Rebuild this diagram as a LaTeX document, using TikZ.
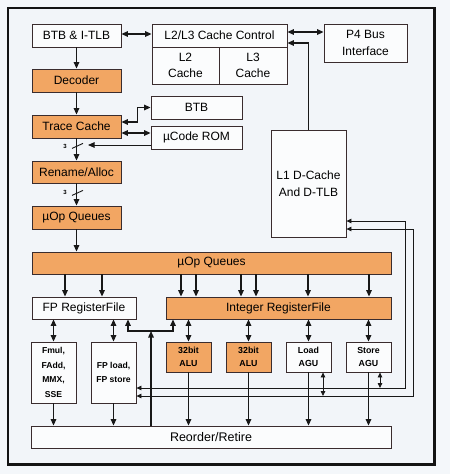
\documentclass[tikz,border=0pt]{standalone}
\usepackage{fontspec}
\setmainfont{Liberation Sans}
\usepackage{tikz}
\usetikzlibrary{calc,arrows.meta}
\definecolor{paper}{HTML}{F4F7FA}
\definecolor{panel}{HTML}{F2F5F9}
\definecolor{frame}{HTML}{141414}
\definecolor{edge}{HTML}{3A2C2E}
\definecolor{wire}{HTML}{181818}
\definecolor{hot}{HTML}{F2A663}
\definecolor{cold}{HTML}{FBFCFD}
\tikzset{
  unitBox/.style={draw=edge, line width=0.8pt, fill=cold, inner sep=1pt, align=center,
    font=\fontsize{12}{16.5}\selectfont},
  hotBox/.style={unitBox, fill=hot},
  leftCol/.style={minimum width=89pt, minimum height=23pt},
  exeBox/.style={minimum width=45pt, minimum height=30pt, font=\fontsize{8.8}{13}\selectfont\bfseries},
  fpBox/.style={minimum width=45pt, minimum height=61pt, font=\fontsize{8.6}{14.5}\selectfont\bfseries},
  wireA/.style={draw=wire, line width=1.4pt, -{Triangle[length=6.5pt,width=5.5pt]}},
  wireB/.style={draw=wire, line width=1.4pt, {Triangle[length=6.5pt,width=5.5pt]}-{Triangle[length=6.5pt,width=5.5pt]}},
  loopWire/.style={draw=wire, line width=0.8pt, {Triangle[length=5pt,width=4.5pt]}-{Triangle[length=5pt,width=4.5pt]}},
  busTag/.style={font=\fontsize{6}{6}\selectfont\bfseries, inner sep=0pt},
}
\begin{document}
\begin{tikzpicture}[x=1pt, y=-1pt]
  \useasboundingbox (0,0) rectangle (450,474);
  \fill[paper] (0,0) rectangle (450,474);
  \draw[draw=frame, fill=panel, line width=2.5pt] (8,8) rectangle (434.5,464.5);

  % front end
  \node[unitBox, leftCol] (btbitlb) at (76.5,35.5) {BTB \& I-TLB};
  \node[hotBox, leftCol] (decoder) at (76.5,80.5) {Decoder};
  \node[hotBox, leftCol] (trace) at (76.5,126.5) {Trace Cache};
  \node[hotBox, leftCol, minimum height=22pt] (rename) at (76.5,172) {Rename/Alloc};
  \node[hotBox, leftCol] (uopq) at (76.5,217.5) {µOp Queues};

  \node[unitBox, minimum width=135pt, minimum height=23pt] (cachectl) at (219.5,35.5) {L2/L3 Cache Control};
  \node[unitBox, minimum width=67pt, minimum height=37pt] (ltwo) at (185.5,65.5) {L2\\Cache};
  \node[unitBox, minimum width=68pt, minimum height=37pt] (lthree) at (253,65.5) {L3\\Cache};
  \node[unitBox, minimum width=83pt, minimum height=38pt] (bus) at (365.5,43) {P4 Bus\\Interface};
  \node[unitBox, minimum width=91pt, minimum height=23pt] (btb) at (196.5,107.5) {BTB};
  \node[unitBox, minimum width=91pt, minimum height=23pt] (ucode) at (196.5,137.5) {µCode ROM};
  \node[unitBox, minimum width=75pt, minimum height=107pt] (lone) at (308.5,183.5) {L1 D-Cache\\And D-TLB};

  % back end
  \node[hotBox, minimum width=359pt, minimum height=22pt] (bigq) at (211.5,263) {µOp Queues};
  \node[unitBox, minimum width=104pt, minimum height=22pt] (fprf) at (84,308) {FP RegisterFile};
  \node[hotBox, minimum width=225pt, minimum height=22pt] (intrf) at (278.5,308) {Integer RegisterFile};
  \node[unitBox, fpBox] (fmul) at (53.5,372.5) {Fmul,\\FAdd,\\MMX,\\SSE};
  \node[unitBox, fpBox] (fpload) at (113.5,372.5) {FP load,\\FP store};
  \node[hotBox, exeBox] (alua) at (188.5,357) {32bit\\ALU};
  \node[hotBox, exeBox] (alub) at (248.5,357) {32bit\\ALU};
  \node[unitBox, exeBox] (loadagu) at (308.5,357) {Load\\AGU};
  \node[unitBox, exeBox] (storeagu) at (368.5,357) {Store\\AGU};
  \node[unitBox, minimum width=360pt, minimum height=22pt, font=\fontsize{12.5}{15}\selectfont] (retire) at (211,437) {Reorder/Retire};

  % joints
  \coordinate (ucodeIn) at (88,145);
  \coordinate (bypL) at (128,331);
  \coordinate (bypM) at (151,331);
  \coordinate (bypR) at (173,331);
  \coordinate (loopA) at (405,221);
  \coordinate (loopB) at (413,229);

  % front end wires
  \draw[wireA] (btbitlb) -- (decoder);
  \draw[wireA] (decoder) -- (trace);
  \draw[wireA] (trace) -- (rename);
  \draw[wireA] (rename) -- (uopq);
  \draw[wireA] (uopq) -- (bigq.north -| uopq);
  \draw[draw=wire, line width=0.9pt] ($(trace.south)+(-4.5,10)$) -- ++(11,-5);
  \draw[draw=wire, line width=0.9pt] ($(rename.south)+(-4.5,12)$) -- ++(11,-5);
  \node[busTag] (tagA) at ($(trace.south)+(-11.5,8)$) {3};
  \node[busTag] (tagB) at ($(rename.south)+(-11.5,9)$) {3};
  \draw[wireA, line width=1pt] ($(ucode.west)+(0,7.5)$) -- (ucodeIn);
  \draw[wireB] ($(trace.east)+(0,-4.5)$) -- ++(16,0) |- (btb.west);
  \draw[wireB] ($(trace.east)+(0,6.5)$) -- ($(ucode.west)+(0,-4.5)$);
  \draw[wireB] ($(btbitlb.east)+(0,-1.5)$) -- ($(cachectl.west)+(0,-1.5)$);
  \draw[wireB] ($(cachectl.east)+(0,-3.5)$) -- (bus.west |- 0,32);
  \draw[wireA] (lone.north) |- ($(cachectl.east)+(0,7.5)$);

  % issue
  \foreach \x in {65,102}
    \draw[wireA] (bigq.south -| \x,0) -- (fprf.north -| \x,0);
  \foreach \x in {181,196,241,256,308,369}
    \draw[wireA] (bigq.south -| \x,0) -- (intrf.north -| \x,0);
  \foreach \u in {fmul,fpload}
    \draw[wireB] (fprf.south -| \u.north) -- (\u.north);
  \foreach \u in {alua,alub,loadagu,storeagu}
    \draw[wireB] (intrf.south -| \u.north) -- (\u.north);
  \foreach \u in {fmul,fpload,alua,alub,loadagu,storeagu}
    \draw[wireA] (\u.south) -- (retire.north -| \u.south);

  % bypass
  \draw[wireB] (fprf.south -| bypL) -- (bypL) -- (bypR) -- (intrf.south -| bypR);
  \draw[wireA] (retire.north -| bypM) -- (bypM);

  % load / store loops
  \draw[loopWire] (fpload.east |- 0,388) -| (loopA) -- (lone.east |- loopA);
  \draw[loopWire] (fpload.east |- 0,396) -| (loopB) -- (lone.east |- loopB);
  \draw[loopWire] (storeagu.south -| 380,0) -- (380,388);
  \draw[loopWire] (loadagu.south -| 323,0) -- (323,396);
\end{tikzpicture}
\end{document}
